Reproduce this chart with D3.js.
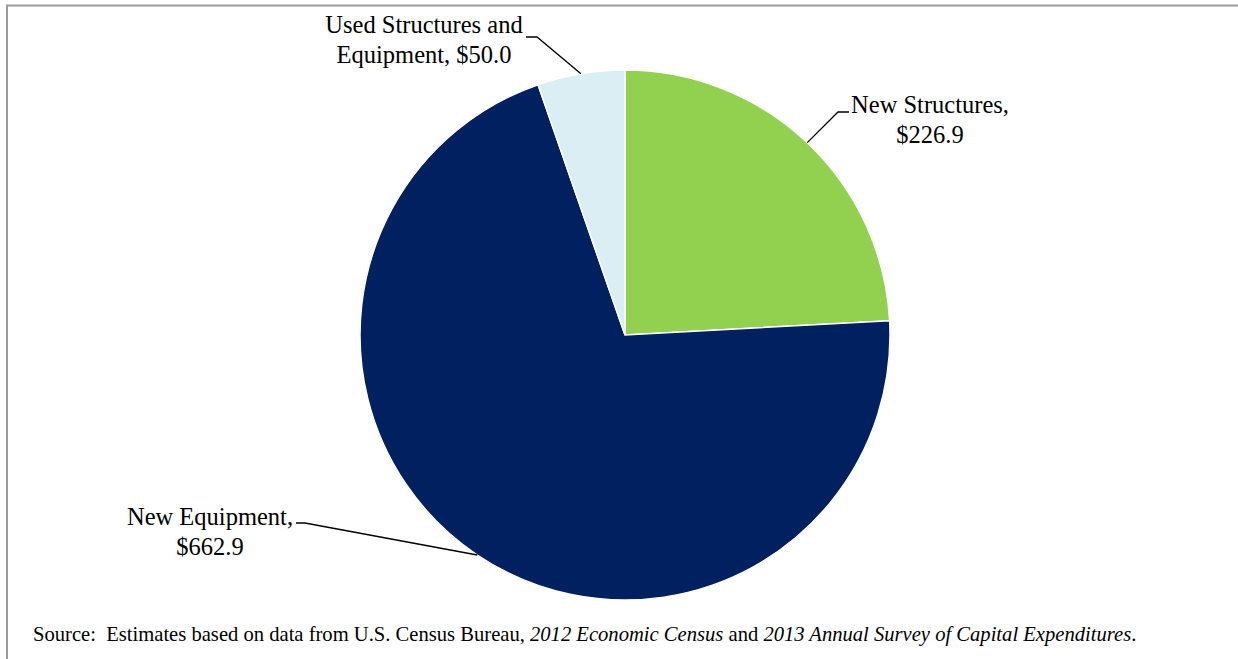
<!DOCTYPE html>
<html>
<head>
<meta charset="utf-8">
<script src="https://cdn.jsdelivr.net/npm/d3@7"></script>
<style>
  html, body { margin: 0; padding: 0; background: #fff; }
  svg { display: block; }
  text { white-space: pre; }
</style>
</head>
<body>
<svg id="chart" width="1238" height="659"></svg>
<script>
// Capital expenditures by type (billions of dollars)
const categories = ["New Structures", "New Equipment", "Used Structures and Equipment"];
const values = [226.9, 662.9, 50.0];
const labelLines = [
  ["New Structures,", "$226.9"],
  ["New Equipment,", "$662.9"],
  ["Used Structures and", "Equipment, $50.0"]
];
const colors = ["#92D050", "#002060", "#DAEEF3"];

const FONT = "'Liberation Serif', 'Times New Roman', Times, 'DejaVu Serif', serif";

const svg = d3.select("#chart");
const W = 1238, H = 659;
const cx = 625, cy = 335, R = 265;

// chart frame (top and left edges)
svg.append("path")
  .attr("d", `M7,${H} L7,5.5 L${W},5.5`)
  .attr("fill", "none")
  .attr("stroke", "#9a9a9a")
  .attr("stroke-width", 2);

const data = categories.map((c, i) => ({ name: c, value: values[i], lines: labelLines[i], color: colors[i] }));

const pie = d3.pie().value(d => d.value).sort(null).startAngle(0).endAngle(2 * Math.PI);
const arcs = pie(data);
const arc = d3.arc().innerRadius(0).outerRadius(R);

const g = svg.append("g").attr("transform", `translate(${cx},${cy})`);

g.selectAll("path.slice")
  .data(arcs)
  .join("path")
  .attr("class", "slice")
  .attr("d", arc)
  .attr("fill", d => d.data.color)
  .attr("stroke", "#fff")
  .attr("stroke-width", 1.5);

// label placement: text anchor point, and the elbow where the leader line meets the text
const labelSpec = [
  { x: 930, y: 113, elbow: [[849, 112], [838, 112]] },
  { x: 210, y: 525, elbow: [[296, 523], [305, 523]] },
  { x: 424, y: 33,  elbow: [[526, 37], [537, 37]] }
];

const lineH = 30;
arcs.forEach((a, i) => {
  const mid = (a.startAngle + a.endAngle) / 2;
  const ex = cx + R * Math.sin(mid);
  const ey = cy - R * Math.cos(mid);
  const spec = labelSpec[i];
  const pts = [...spec.elbow, [ex, ey]];
  svg.append("path")
    .attr("d", d3.line()(pts))
    .attr("fill", "none")
    .attr("stroke", "#000")
    .attr("stroke-width", 1.3);

  const t = svg.append("text")
    .attr("text-anchor", "middle")
    .attr("font-family", FONT)
    .attr("font-size", 24.5)
    .attr("fill", "#000");
  a.data.lines.forEach((ln, k) => {
    t.append("tspan")
      .attr("x", spec.x)
      .attr("y", spec.y + k * lineH)
      .text(ln);
  });
});

// source note
const src = svg.append("text")
  .attr("x", 33)
  .attr("y", 641)
  .attr("font-family", FONT)
  .attr("font-size", 20.6)
  .attr("fill", "#000");
src.append("tspan").text("Source:  Estimates based on data from U.S. Census Bureau, ");
src.append("tspan").attr("font-style", "italic").text("2012 Economic Census");
src.append("tspan").text(" and ");
src.append("tspan").attr("font-style", "italic").text("2013 Annual Survey of Capital Expenditures");
src.append("tspan").text(".");
</script>
</body>
</html>
